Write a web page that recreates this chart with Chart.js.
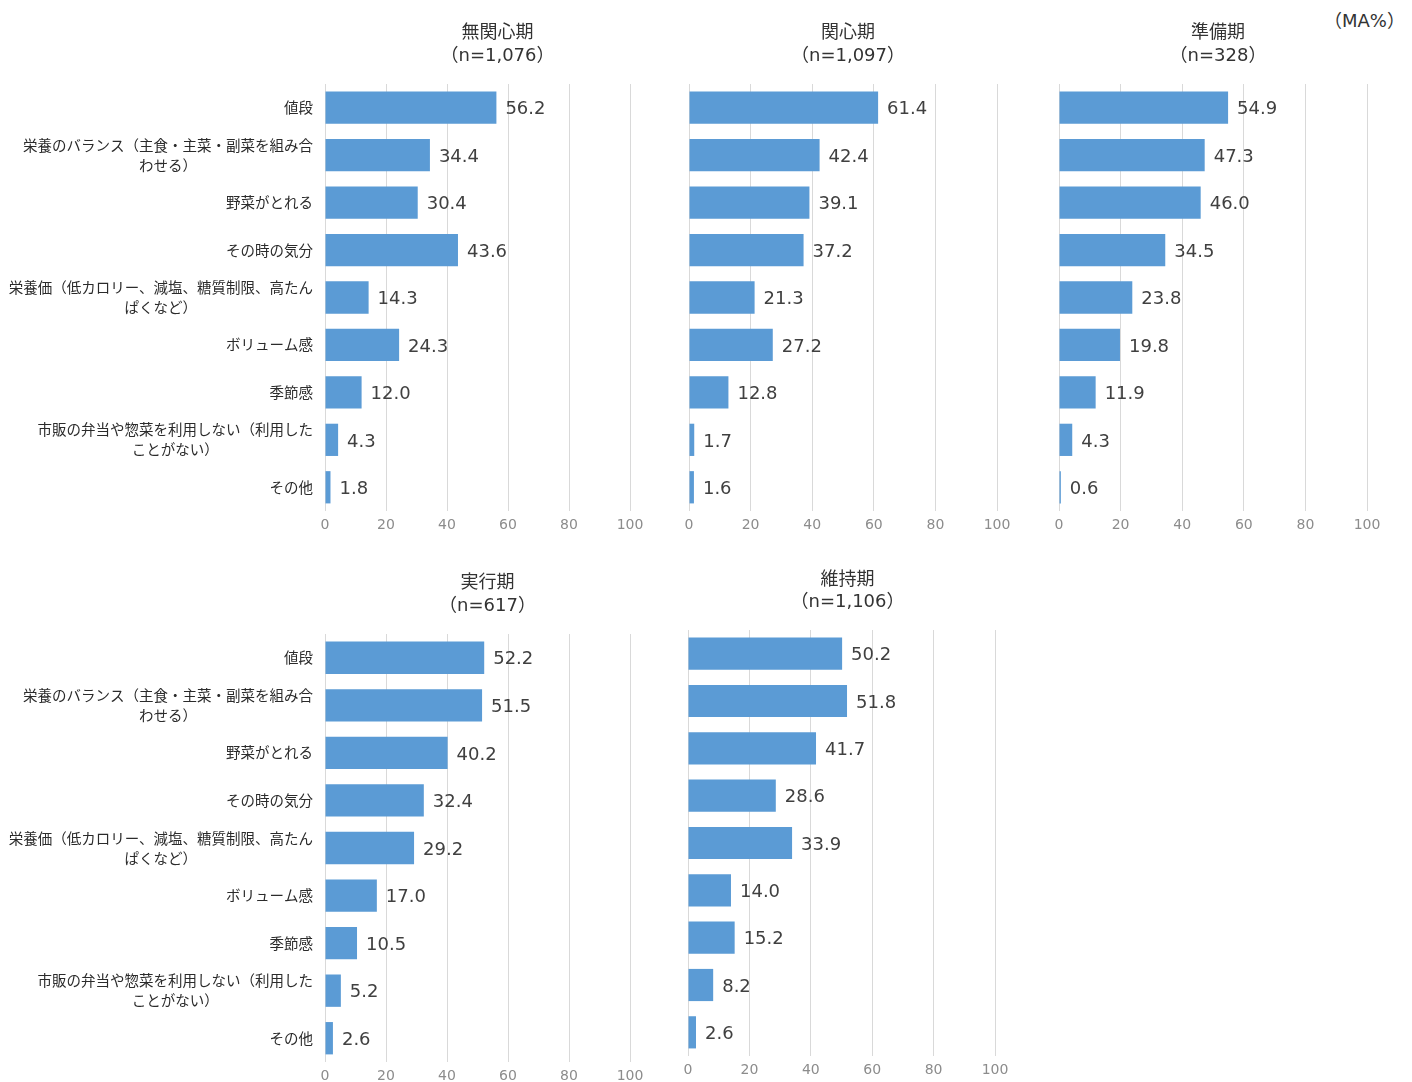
<!DOCTYPE html>
<html lang="ja">
<head>
<meta charset="utf-8">
<script src="https://cdn.jsdelivr.net/npm/chart.js@4.4.1/dist/chart.umd.min.js"></script>
<style>
  html, body { margin: 0; padding: 0; background: #fff; }
  #wrap { position: relative; width: 1412px; height: 1082px; overflow: hidden; }
  #wrap canvas { position: absolute; }
  #unit { position: absolute; left: 1324px; top: 6px; font: 18px "DejaVu Sans", "Noto Sans CJK JP", sans-serif; color: #333; }
</style>
</head>
<body>
<div id="wrap">
  <div id="unit">（MA%）</div>
  <canvas id="c0" width="660" height="540" style="left:0;top:0"></canvas>
  <canvas id="c1" width="370" height="540" style="left:660px;top:0"></canvas>
  <canvas id="c2" width="382" height="540" style="left:1030px;top:0"></canvas>
  <canvas id="c3" width="660" height="532" style="left:0;top:550px"></canvas>
  <canvas id="c4" width="370" height="532" style="left:660px;top:550px"></canvas>
</div>
<script>
// 選択理由（複数回答）
var reasons = [
	['値段'],
	['栄養のバランス（主食・主菜・副菜を組み合', 'わせる）'],
	['野菜がとれる'],
	['その時の気分'],
	['栄養価（低カロリー、減塩、糖質制限、高たん', 'ぱくなど）'],
	['ボリューム感'],
	['季節感'],
	['市販の弁当や惣菜を利用しない（利用した', 'ことがない）'],
	['その他']
];
var stageNames = ['無関心期', '関心期', '準備期', '実行期', '維持期'];
var stageN = ['1,076', '1,097', '328', '617', '1,106'];

var mukanshin = [56.2, 34.4, 30.4, 43.6, 14.3, 24.3, 12.0, 4.3, 1.8];
var kanshin = [61.4, 42.4, 39.1, 37.2, 21.3, 27.2, 12.8, 1.7, 1.6];
var junbi = [54.9, 47.3, 46.0, 34.5, 23.8, 19.8, 11.9, 4.3, 0.6];
var jikko = [52.2, 51.5, 40.2, 32.4, 29.2, 17.0, 10.5, 5.2, 2.6];
var iji = [50.2, 51.8, 41.7, 28.6, 33.9, 14.0, 15.2, 8.2, 2.6];

var xTicks = [0, 20, 40, 60, 80, 100];

var stageValues = [mukanshin, kanshin, junbi, jikko, iji];

// canvas ごとの余白設定
var panels = [
	{ yw: 325, padTop: 84, padRight: 30, xh: 29, labels: true, titleShift: 20, titleY: [31, 56] },
	{ yw: 29, padTop: 84, padRight: 33, xh: 29, labels: false, titleShift: 5, titleY: [31, 56] },
	{ yw: 29, padTop: 84, padRight: 45, xh: 29, labels: false, titleShift: 5, titleY: [31, 56] },
	{ yw: 325, padTop: 84, padRight: 30, xh: 20, labels: true, titleShift: 10, titleY: [31, 56] },
	{ yw: 28, padTop: 80, padRight: 35, xh: 26, labels: false, titleShift: 6, titleY: [28, 52] }
];

var JP = '"Noto Sans CJK JP", sans-serif';
var NUM = '"DejaVu Sans", "Noto Sans CJK JP", sans-serif';

var panelText = {
	id: 'panelText',
	afterDraw: function (chart, args, opts) {
		var ctx = chart.ctx;
		var area = chart.chartArea;
		ctx.save();
		ctx.fillStyle = '#333';
		// タイトル
		ctx.textAlign = 'center';
		ctx.textBaseline = 'middle';
		var cx = (area.left + area.right) / 2 + opts.titleShift;
		ctx.font = '18px ' + JP;
		ctx.fillText(opts.title[0], cx, opts.titleY[0]);
		ctx.font = '18px ' + NUM;
		ctx.fillText(opts.title[1], cx, opts.titleY[1]);

		// 数値ラベル
		ctx.fillStyle = '#404040';
		ctx.textAlign = 'left';
		ctx.font = '18px ' + NUM;
		var meta = chart.getDatasetMeta(0);
		var data = chart.data.datasets[0].data;
		meta.data.forEach(function (bar, i) {
			ctx.fillText(data[i].toFixed(1), bar.x + 9, bar.y + 2);
		});

		// 項目ラベル（複数行は行ごとに中央揃え）
		if (opts.labels) {
			ctx.fillStyle = '#2b2b2b';
			ctx.font = '14.5px ' + JP;
			var yScale = chart.scales.y;
			var right = area.left - 12;
			chart.data.labels.forEach(function (lines, i) {
				var y = yScale.getPixelForValue(i);
				var widest = 0;
				lines.forEach(function (l) { widest = Math.max(widest, ctx.measureText(l).width); });
				var x = right - widest / 2;
				ctx.textAlign = 'center';
				var top = y - (lines.length - 1) * 10;
				lines.forEach(function (l, k) { ctx.fillText(l, x, top + k * 20); });
			});
		}
		ctx.restore();
	}
};

stageValues.forEach(function (vals, idx) {
	var p = panels[idx];
	new Chart(document.getElementById('c' + idx), {
		type: 'bar',
		data: {
			labels: reasons,
			datasets: [{
				data: vals,
				backgroundColor: '#5b9bd5',
				borderWidth: 0,
				categoryPercentage: 1,
				barPercentage: 0.68
			}]
		},
		options: {
			indexAxis: 'y',
			responsive: false,
			animation: false,
			layout: { padding: { top: p.padTop, right: p.padRight, left: 0, bottom: 0 } },
			plugins: {
				legend: { display: false },
				tooltip: { enabled: false },
				panelText: {
					title: [stageNames[idx], '（n=' + stageN[idx] + '）'],
					titleY: p.titleY,
					titleShift: p.titleShift,
					labels: p.labels
				}
			},
			scales: {
				x: {
					min: xTicks[0],
					max: xTicks[xTicks.length - 1],
					afterBuildTicks: function (s) { s.ticks = xTicks.map(function (v) { return { value: v }; }); },
					afterFit: function (s) { s.height = p.xh; },
					grid: { color: '#d9d9d9', drawTicks: false },
					border: { display: false },
					ticks: { padding: 6, color: '#8c8c8c', font: { family: NUM, size: 14 } }
				},
				y: {
					afterFit: function (s) { s.width = p.yw; },
					grid: { display: false },
					border: { display: false },
					ticks: { display: false }
				}
			}
		},
		plugins: [panelText]
	});
});
</script>
</body>
</html>
